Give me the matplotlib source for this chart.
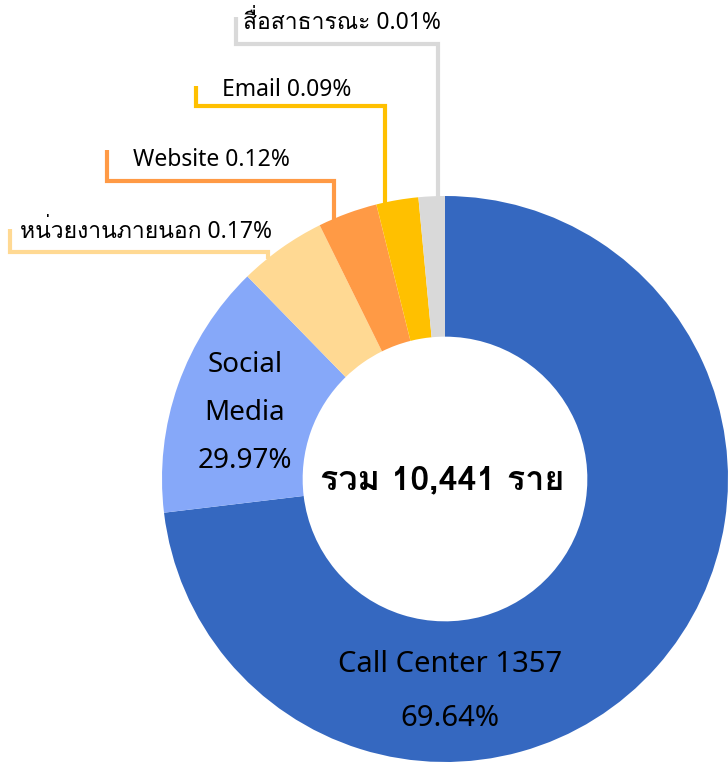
import numpy as np
import matplotlib
matplotlib.use("Agg")
import matplotlib.pyplot as plt
from matplotlib import font_manager
from matplotlib.ft2font import FT2Font

# data
channels = ["Call Center", "Social Media", "หน่วยงานภายนอก", "Website", "Email", "สื่อสาธารณะ"]
shares = [73.1, 14.6, 5.0, 3.4, 2.4, 1.5]  # drawn slice sizes
pct_labels = ["69.64%", "29.97%", "0.17%", "0.12%", "0.09%", "0.01%"]
call_center_no = "1357"
total_text = "รวม 10,441 ราย"
colors = ["#3568C0", "#86A8F9", "#FFD993", "#FF9A45", "#FFC000", "#D9D9D9"]


def find_thai_fonts():
    found = []
    for f in font_manager.fontManager.ttflist:
        try:
            ft = FT2Font(f.fname)
            if ft.get_char_index(0x0E2A) and f.name not in found:
                found.append(f.name)
        except Exception:
            pass
    return found


thai = find_thai_fonts()
plt.rcParams["font.family"] = ["Noto Sans"] + thai + ["DejaVu Sans"]

W, H = 728, 767
fig = plt.figure(figsize=(W / 100, H / 100), dpi=100)
ax = fig.add_axes([0, 0, 1, 1])

cx, cy, R = 445, H - 479, 283
wedges, _ = ax.pie(shares, colors=colors, startangle=90, counterclock=False,
                   center=(cx, cy), radius=R, frame=True,
                   wedgeprops=dict(width=R * 0.497, edgecolor="none"))
ax.set_xlim(0, W)
ax.set_ylim(0, H)
ax.set_aspect("equal")
ax.axis("off")

# labels inside slices
ax.text(450, H - 665, f"{channels[0]} {call_center_no}", ha="center", va="center",
        fontsize=21, fontweight="medium")
ax.text(450, H - 718, pct_labels[0], ha="center", va="center", fontsize=21, fontweight="medium")
for i, line in enumerate(["Social", "Media", pct_labels[1]]):
    ax.text(245, H - (365 + 48 * i), line, ha="center", va="center", fontsize=20, fontweight="medium")

ax.text(cx - 3, H - 480, total_text, ha="center", va="center", fontsize=24.5,
        fontweight="bold", family=thai + ["DejaVu Sans"])


def circle_y(x):
    return cy + np.sqrt(R ** 2 - (x - cx) ** 2)


# leader lines: (x where line leaves slice, y of horizontal run, x of outer end, y of outer end)
leaders = [
    (268, 252, 10, 229),
    (334, 181, 107, 150),
    (385, 106, 196, 86),
    (438, 44, 236, 17),
]
label_pos = [(20, 232), (133, 160), (222, 90), (243, 23)]
for k, (lx, hy, ex, ey) in enumerate(leaders):
    i = k + 2
    xs = [lx, lx, ex, ex]
    ys = [circle_y(lx) - 1, H - hy, H - hy, H - ey]
    ax.plot(xs, ys, color=colors[i], lw=3, solid_joinstyle="miter", solid_capstyle="butt")
    tx, ty = label_pos[k]
    ax.text(tx, H - ty, f"{channels[i]} {pct_labels[i]}", ha="left", va="center",
            fontsize=16.5, fontweight="medium")

fig.savefig("out.png", dpi=100)
